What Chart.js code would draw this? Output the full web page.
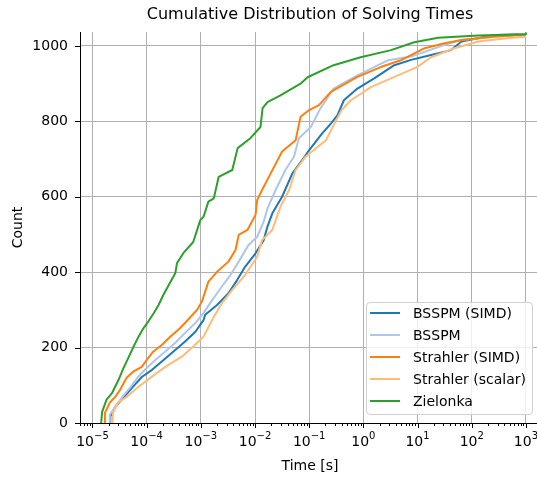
<!DOCTYPE html>
<html>
<head>
<meta charset="utf-8">
<script src="https://cdn.jsdelivr.net/npm/chart.js@4.4.0/dist/chart.umd.min.js"></script>
<style>
html, body { margin: 0; padding: 0; background: #fff; overflow: hidden; }
#wrap { position: relative; width: 537px; height: 477px; overflow: hidden; }
#legend { position: absolute; left: 366px; top: 302px; width: 167px; height: 113px; box-sizing: border-box;
  border: 1px solid #d0d0d0; border-radius: 4px; background: rgba(255,255,255,0.8);
  font-family: "DejaVu Sans", sans-serif; font-size: 14px; color: #000; }
.item { position: absolute; left: 0; width: 160px; height: 22px; line-height: 22px; white-space: nowrap; }
.item .h { position: absolute; left: 3px; top: 10px; width: 30px; height: 2px; }
.item .t { position: absolute; left: 46px; top: 0; }
</style>
</head>
<body>
<div id="wrap">
  <canvas id="cdf" width="540" height="477" style="width:540px;height:477px;"></canvas>
  <div id="legend"></div>
</div>
<script>
// times are log10(seconds), counts are cumulative number of solved instances
var bsspmSimdT = [-4.67,-4.67,-4.58,-4.46,-4.27,-4.09,-3.90,-3.72,-3.51,-3.29,-3.10,-2.95,-2.92,-2.70,-2.49,-2.33,-2.18,-1.99,-1.84,-1.77,-1.68,-1.50,-1.31,-1.13,-1.00,-0.76,-0.60,-0.48,-0.36,-0.11,0.20,0.57,0.88,1.25,1.62,1.81,2.42,3.00];
var bsspmSimdN = [0,17,43,62,93,122,141,163,189,216,242,273,287,313,344,379,415,450,485,521,556,600,662,697,724,768,794,816,856,887,914,949,963,976,989,1012,1029,1031];

var bsspmT = [-4.68,-4.68,-4.58,-4.46,-4.31,-4.16,-4.00,-3.84,-3.66,-3.47,-3.29,-3.10,-2.95,-2.79,-2.61,-2.45,-2.30,-2.12,-1.96,-1.84,-1.77,-1.62,-1.44,-1.28,-1.19,-0.97,-0.79,-0.69,-0.55,-0.11,0.45,0.88,1.50,1.81,3.00];
var bsspmN = [0,22,43,67,93,122,146,167,189,213,239,265,292,326,362,393,428,472,494,534,569,618,671,706,755,785,835,856,887,922,962,972,1003,1016,1032];

var strahlerSimdT = [-4.78,-4.77,-4.68,-4.58,-4.49,-4.37,-4.25,-4.09,-4.00,-3.88,-3.72,-3.57,-3.38,-3.19,-3.07,-2.98,-2.86,-2.70,-2.49,-2.36,-2.30,-2.14,-1.99,-1.96,-1.87,-1.71,-1.50,-1.25,-1.16,-1.00,-0.82,-0.60,-0.11,0.32,0.69,1.13,1.50,1.81,2.42,3.00];
var strahlerSimdN = [0,27,54,69,88,120,136,149,167,189,207,228,252,281,300,322,375,401,428,459,499,512,552,591,618,662,720,750,812,830,843,878,918,944,962,994,1007,1016,1025,1029];

var strahlerScalarT = [-4.63,-4.62,-4.53,-4.37,-4.18,-4.03,-3.81,-3.60,-3.35,-3.14,-2.95,-2.76,-2.61,-2.42,-2.18,-1.96,-1.87,-1.68,-1.53,-1.37,-1.25,-1.07,-0.88,-0.69,-0.55,-0.40,-0.23,0.14,0.51,0.99,1.25,1.68,2.12,2.61,3.00];
var strahlerScalarN = [0,27,54,69,93,109,133,154,176,203,229,282,318,353,393,441,485,512,574,618,671,706,728,750,790,830,856,891,914,944,970,994,1012,1020,1025];

var zielonkaT = [-4.84,-4.82,-4.74,-4.64,-4.52,-4.43,-4.34,-4.24,-4.15,-4.06,-3.97,-3.87,-3.78,-3.69,-3.47,-3.44,-3.32,-3.14,-3.01,-2.95,-2.86,-2.76,-2.67,-2.42,-2.32,-2.08,-1.90,-1.86,-1.77,-1.53,-1.16,-1.03,-0.55,-0.05,0.51,0.94,1.38,2.12,3.00,3.00];
var zielonkaN = [0,30,62,79,114,145,172,203,229,251,269,291,313,340,398,424,451,480,538,547,587,596,653,671,729,756,785,835,851,869,900,917,949,970,989,1010,1022,1028,1031,1036];

var seriesNames = ["BSSPM (SIMD)", "BSSPM", "Strahler (SIMD)", "Strahler (scalar)", "Zielonka"];
var seriesColors = ["#1f77b4", "#aec7e8", "#ff7f0e", "#ffbb78", "#2ca02c"];
var xDecades = [-5, -4, -3, -2, -1, 0, 1, 2, 3];
var yTicks = [0, 200, 400, 600, 800, 1000];

var FONT = "DejaVu Sans";

var toPoints = function(t, n){
	var pts = [];
	for (var i = 0; i < t.length; i++) {
		pts.push({x: Math.pow(10, t[i]), y: n[i]});
	}
	return pts;
};

// tick marks and 10^n labels drawn like matplotlib's mathtext
var axisDecor = {
	id: "axisDecor",
	afterDraw: function(chart){
		var ctx = chart.ctx, xs = chart.scales.x, ys = chart.scales.y, area = chart.chartArea;
		ctx.save();
		ctx.strokeStyle = "#000";
		ctx.lineWidth = 1;
		ctx.beginPath();
		for (var e = -6; e <= 3; e++) {
			for (var m = 1; m < 10; m++) {
				var v = m * Math.pow(10, e);
				if (v < xs.min || v > xs.max) continue;
				var px = Math.round(xs.getPixelForValue(v)) + 0.5;
				ctx.moveTo(px, area.bottom);
				ctx.lineTo(px, area.bottom + (m === 1 ? 5 : 3));
			}
		}
		yTicks.forEach(function(v){
			var py = Math.round(ys.getPixelForValue(v)) + 0.5;
			ctx.moveTo(area.left - 5, py);
			ctx.lineTo(area.left, py);
		});
		ctx.stroke();

		ctx.fillStyle = "#000";
		ctx.textBaseline = "alphabetic";
		ctx.textAlign = "left";
		xDecades.forEach(function(e){
			var base = "10", exp = String(e).replace("-", "\u2212");
			ctx.font = "14px '" + FONT + "'";
			var wb = ctx.measureText(base).width;
			ctx.font = "10px '" + FONT + "'";
			var we = ctx.measureText(exp).width;
			var x0 = xs.getPixelForValue(Math.pow(10, e)) - (wb + we) / 2;
			ctx.font = "14px '" + FONT + "'";
			ctx.fillText(base, x0, area.bottom + 23);
			ctx.font = "10px '" + FONT + "'";
			ctx.fillText(exp, x0 + wb, area.bottom + 16);
		});
		ctx.restore();
	}
};

var seriesT = [bsspmSimdT, bsspmT, strahlerSimdT, strahlerScalarT, zielonkaT];
var seriesN = [bsspmSimdN, bsspmN, strahlerSimdN, strahlerScalarN, zielonkaN];
var datasets = [];
for (var i = 0; i < seriesNames.length; i++) {
	datasets.push({
		label: seriesNames[i],
		data: toPoints(seriesT[i], seriesN[i]),
		borderColor: seriesColors[i],
		backgroundColor: seriesColors[i],
		borderWidth: 2,
		pointRadius: 0,
		fill: false,
		tension: 0,
		borderJoinStyle: "round",
		order: seriesNames.length - i
	});
}

new Chart(document.getElementById("cdf").getContext("2d"), {
	type: "line",
	data: {datasets: datasets},
	plugins: [axisDecor],
	options: {
		responsive: false,
		animation: false,
		devicePixelRatio: 1,
		layout: {padding: 0, autoPadding: false},
		plugins: {
			legend: {display: false},
			tooltip: {enabled: false},
			title: {
				display: true,
				text: "Cumulative Distribution of Solving Times",
				fullSize: false,
				color: "#000",
				font: {family: FONT, size: 16, weight: "normal"},
				padding: {top: 5.5, bottom: 7.3}
			}
		},
		scales: {
			x: {
				type: "logarithmic",
				min: Math.pow(10, -5.23),
				max: Math.pow(10, 3.26),
				afterBuildTicks: function(s){
					s.ticks = xDecades.map(function(e){ return {value: Math.pow(10, e)}; });
				},
				afterFit: function(s){ s.height = 54; s.paddingLeft = 0; s.paddingRight = 0; },
				grid: {color: "#b0b0b0", lineWidth: 1, drawTicks: false},
				border: {display: true, color: "#000", width: 1},
				ticks: {display: false, autoSkip: false},
				title: {display: true, text: "Time [s]", color: "#000", font: {family: FONT, size: 14}, padding: {top: 0, bottom: 2}}
			},
			y: {
				min: 0,
				max: 1037,
				afterBuildTicks: function(s){
					s.ticks = yTicks.map(function(v){ return {value: v}; });
				},
				afterFit: function(s){ s.width = 80; },
				grid: {
					color: function(c){ return c.tick && c.tick.value === 0 ? "rgba(0,0,0,0)" : "#b0b0b0"; },
					lineWidth: 1,
					drawTicks: false
				},
				border: {display: true, color: "#000", width: 1},
				ticks: {font: {family: FONT, size: 14}, color: "#000", padding: 12, callback: function(v){ return String(v); }},
				title: {display: true, text: "Count", color: "#000", font: {family: FONT, size: 14}, padding: {top: 10, bottom: 0}}
			}
		}
	}
});

// legend drawn inside the axes, lower right
var legend = document.getElementById("legend");
for (var k = 0; k < seriesNames.length; k++) {
	var item = document.createElement("div");
	item.className = "item";
	item.style.top = (k * 22 - 1) + "px";
	item.innerHTML = '<span class="h" style="background:' + seriesColors[k] + '"></span><span class="t">' + seriesNames[k] + '</span>';
	legend.appendChild(item);
}
</script>
</body>
</html>
